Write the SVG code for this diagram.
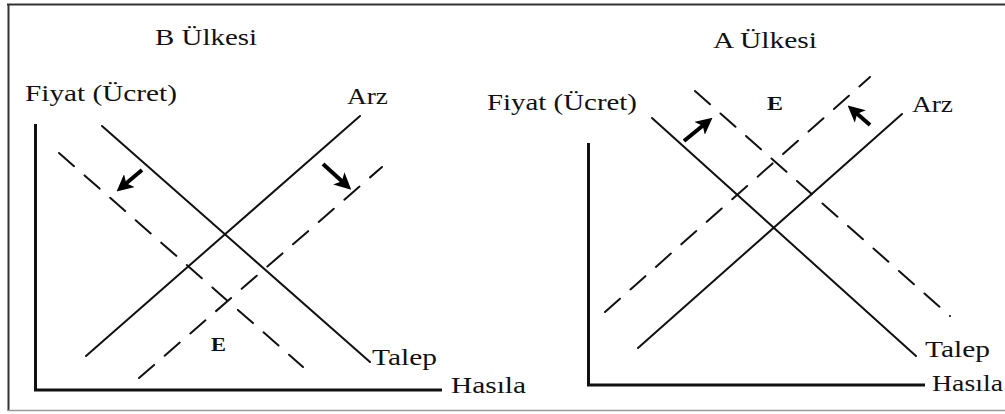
<svg xmlns="http://www.w3.org/2000/svg" width="1005" height="414" viewBox="0 0 1005 414">
<style>
text{font-family:'Liberation Serif','DejaVu Serif','Times New Roman',serif}
.t{font-size:23px;fill:#111}
.e{font-size:18px;font-weight:bold;fill:#111}
.ax{stroke:#111;stroke-width:3;fill:none}
.s{stroke:#111;stroke-width:2;fill:none;stroke-linecap:round}
.d{stroke:#111;stroke-width:2;fill:none;stroke-dasharray:20 14;stroke-linecap:round}
.ar{stroke:#000;stroke-width:4;fill:none;marker-end:url(#ah)}
</style>
<defs>
<marker id="ah" viewBox="0 0 10 10" refX="5" refY="5" markerWidth="4.2" markerHeight="4.2" orient="auto" markerUnits="strokeWidth">
<path d="M0,0 L10,5 L0,10 L2.5,5 Z" fill="#000"/>
</marker>
</defs>
<rect width="1005" height="414" fill="#fff"/>
<g id="frame">
<line x1="7" y1="4.5" x2="1005" y2="4.5" stroke="#333" stroke-width="2"/>
<line x1="8.5" y1="4" x2="8.5" y2="411" stroke="#333" stroke-width="2"/>
<line x1="8" y1="410.5" x2="1005" y2="410.5" stroke="#999" stroke-width="1.5"/>
</g>
<g id="panel-b">
<g id="b-axes">
<line class="ax" x1="35.5" y1="124" x2="35.5" y2="390"/>
<line class="ax" x1="34" y1="390" x2="442" y2="390"/>
</g>
<g id="b-curves">
<line class="s" x1="102" y1="126" x2="370" y2="362"/>
<line class="s" x1="86" y1="356" x2="360" y2="116"/>
<line class="d" x1="59" y1="153" x2="303" y2="367"/>
<line class="d" x1="139" y1="378" x2="382" y2="167"/>
</g>
<g id="b-arrows">
<line class="ar" x1="142" y1="170" x2="123" y2="186"/>
<line class="ar" x1="323" y1="164" x2="345" y2="184"/>
</g>
<g id="b-labels">
<text class="t" x="155" y="45" textLength="102" lengthAdjust="spacingAndGlyphs">B Ülkesi</text>
<text class="t" x="25" y="101" textLength="152" lengthAdjust="spacingAndGlyphs">Fiyat (Ücret)</text>
<text class="t" x="347" y="104" textLength="41" lengthAdjust="spacingAndGlyphs">Arz</text>
<text class="t" x="372" y="365" textLength="65" lengthAdjust="spacingAndGlyphs">Talep</text>
<text class="t" x="451" y="393" textLength="75" lengthAdjust="spacingAndGlyphs">Hasıla</text>
<text class="e" x="211" y="351" textLength="15" lengthAdjust="spacingAndGlyphs">E</text>
</g>
</g>
<g id="panel-a">
<g id="a-axes">
<line class="ax" x1="588.5" y1="143" x2="588.5" y2="385"/>
<line class="ax" x1="587" y1="385" x2="925" y2="385"/>
</g>
<g id="a-curves">
<line class="s" x1="652" y1="118" x2="916" y2="356"/>
<line class="s" x1="638" y1="348" x2="902" y2="114"/>
<line class="d" x1="695" y1="91" x2="950" y2="316"/>
<line class="d" x1="605" y1="312" x2="870" y2="77"/>
</g>
<g id="a-arrows">
<line class="ar" x1="684" y1="141" x2="706" y2="123"/>
<line class="ar" x1="870" y1="125" x2="854" y2="111"/>
</g>
<g id="a-labels">
<text class="t" x="713" y="48" textLength="104" lengthAdjust="spacingAndGlyphs">A Ülkesi</text>
<text class="t" x="487" y="110" textLength="150" lengthAdjust="spacingAndGlyphs">Fiyat (Ücret)</text>
<text class="t" x="912" y="112" textLength="41" lengthAdjust="spacingAndGlyphs">Arz</text>
<text class="t" x="925" y="357" textLength="65" lengthAdjust="spacingAndGlyphs">Talep</text>
<text class="t" x="932" y="391" textLength="71" lengthAdjust="spacingAndGlyphs">Hasıla</text>
<text class="e" x="767" y="110" textLength="16" lengthAdjust="spacingAndGlyphs">E</text>
</g>
</g>
</svg>
